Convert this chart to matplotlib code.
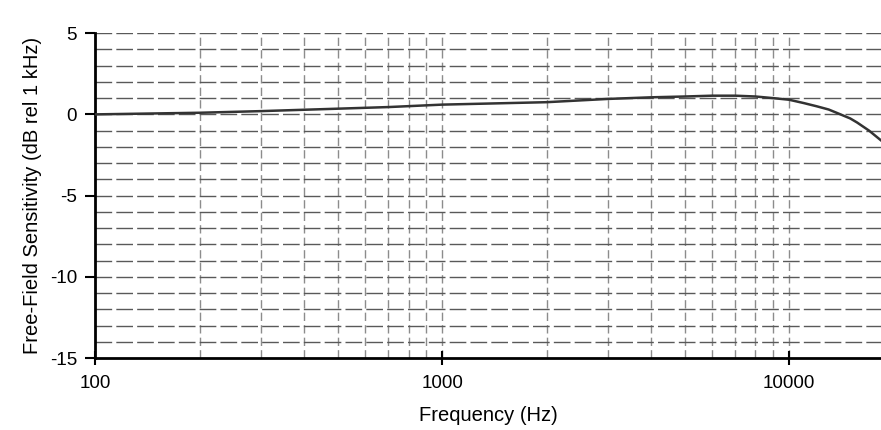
import numpy as np
import matplotlib.pyplot as plt
from matplotlib.ticker import FixedLocator, NullFormatter

plt.rcParams['font.family'] = ['Liberation Sans', 'DejaVu Sans']

# response
freq_hz = [100, 200, 300, 500, 700, 1000, 2000, 3000, 4000, 5000, 6000,
           7000, 8000, 9000, 10000, 11000, 12000, 13000, 13700, 15000,
           15700, 17000, 18400]
sens_db = [0.0, 0.1, 0.2, 0.35, 0.45, 0.6, 0.75, 0.95, 1.05, 1.1, 1.15,
           1.15, 1.1, 1.0, 0.9, 0.7, 0.5, 0.3, 0.1, -0.25,
           -0.5, -1.0, -1.6]

x_ticks = [100, 1000, 10000]
y_ticks = [5, 0, -5, -10, -15]

fig = plt.figure(figsize=(8.81, 4.30), dpi=100)
ax = fig.add_axes([0.108, 0.167, 0.892, 0.756])

ax.set_xscale('log')
ax.set_xlim(100, 18400)
ax.set_ylim(-15, 5)

# dashed grey grid: every 1 dB and every minor log step
minor_x = [m * d for d in (100, 1000, 10000) for m in range(2, 10) if m * d < 18400]
for f in minor_x + [1000, 10000]:
    ax.axvline(f, color='0.55', lw=1.0, ls=(0, (6, 3)), zorder=1)
for v in range(-14, 6):
    ax.axhline(v, color='0.35', lw=1.0, ls=(0, (12, 3)), zorder=1)

ax.plot(freq_hz, sens_db, color='0.2', lw=1.8, zorder=3)

ax.xaxis.set_major_locator(FixedLocator(x_ticks))
ax.xaxis.set_minor_locator(FixedLocator([]))
ax.xaxis.set_minor_formatter(NullFormatter())
ax.set_xticklabels([str(t) for t in x_ticks])
ax.set_yticks(y_ticks)
ax.set_yticklabels([str(t) for t in y_ticks])

for s in ('top', 'right'):
    ax.spines[s].set_visible(False)
for s in ('left', 'bottom'):
    ax.spines[s].set_linewidth(2)
    ax.spines[s].set_color('black')

ax.tick_params(axis='x', direction='inout', length=10, width=1.5, labelsize=13.5, pad=7)
ax.tick_params(axis='y', direction='out', length=7, width=1.5, labelsize=13.5, pad=6)

ax.set_xlabel('Frequency (Hz)', fontsize=14.5, labelpad=10)
ax.set_ylabel('Free-Field Sensitivity (dB rel 1 kHz)', fontsize=14.5, labelpad=6)

plt.savefig('out.png', dpi=100)
